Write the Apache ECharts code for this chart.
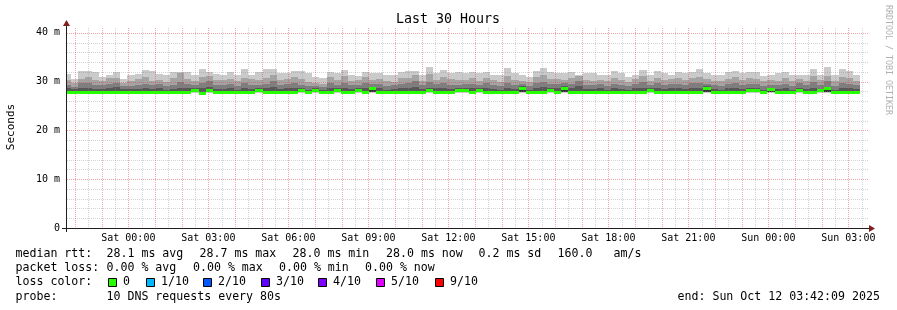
<!DOCTYPE html>
<html><head><meta charset="utf-8">
<script src="https://cdn.jsdelivr.net/npm/echarts@6/dist/echarts.min.js"></script>
<style>html,body{margin:0;padding:0;background:#fff;}#c{width:897px;height:310px;}</style>
</head><body><div id="c"></div>
<script>
// time in minutes since Fri 00:00
const startMin = 1302;   // Fri 21:42
const endMin = 3102;     // Sun 03:42
const binStart = 1294;   // first 16-minute consolidation bin
const binMinutes = 16;

const xTickTimes = [1440, 1620, 1800, 1980, 2160, 2340, 2520, 2700, 2880, 3060];
const xTickLabels = ['Sat 00:00','Sat 03:00','Sat 06:00','Sat 09:00','Sat 12:00','Sat 15:00','Sat 18:00','Sat 21:00','Sun 00:00','Sun 03:00'];
const yTickValues = [0, 10, 20, 30, 40];
const yTickLabels = ['0', '10 m', '20 m', '30 m', '40 m'];

// median RTT (ms) per bin
const medianRtt = [
27.95,27.95,27.95,27.95,27.95,27.95,27.95,27.95,27.95,27.95,27.95,27.95,27.95,27.95,
27.95,27.95,27.95,27.95,28.3,27.7,28.3,27.95,27.95,27.95,27.95,27.95,27.95,28.3,
27.95,27.95,27.95,27.95,27.95,28.3,27.8,28.3,27.95,27.95,28.3,27.95,27.95,28.3,
27.8,28.7,27.95,27.95,27.95,27.95,27.95,27.95,27.95,28.3,27.95,27.95,27.95,28.3,
28.3,27.95,28.3,27.95,27.95,27.95,27.95,27.95,28.8,27.95,27.95,27.95,28.3,27.95,
28.8,27.95,27.95,27.95,27.95,27.95,27.95,27.95,27.95,27.95,27.95,27.95,28.3,27.95,
27.95,27.95,27.95,27.95,27.95,27.95,28.8,27.95,27.95,27.95,27.95,27.95,28.2,28.2,
27.95,28.4,27.95,27.95,27.95,28.3,27.95,27.95,28.2,28.7,27.95,27.95,27.95,27.95];
// lowest ping
const pingMin = [
27.75,27.75,27.6,27.6,27.75,27.75,27.75,27.75,27.75,27.75,27.75,27.75,27.75,27.75,
27.6,27.75,27.75,27.75,27.75,27.5,27.75,27.75,27.75,27.75,27.75,27.75,27.75,27.75,
27.75,27.6,27.75,27.75,27.75,27.75,27.6,27.75,27.75,27.75,27.75,27.75,27.75,27.75,
27.6,27.75,27.75,27.75,27.75,27.75,27.75,27.75,27.6,27.75,27.75,27.75,27.75,27.75,
27.75,27.75,27.75,27.75,27.6,27.75,27.75,27.75,27.75,27.75,27.75,27.75,27.75,27.75,
27.75,27.75,27.75,27.75,27.75,27.75,27.75,27.75,27.75,27.75,27.75,27.75,27.75,27.75,
27.75,27.75,27.75,27.75,27.75,27.75,27.75,27.75,27.75,27.75,27.75,27.75,27.75,27.75,
27.75,27.75,27.75,27.75,27.75,27.75,27.75,27.75,27.75,27.75,27.75,27.75,27.75,27.75];
// lower inner pings (2nd..5th)
const pingLow = [
27.8,27.8,27.8,27.8,27.8,27.8,27.8,27.8,27.8,27.8,27.8,27.8,27.8,27.8,
27.8,27.8,27.8,27.8,27.8,27.6,27.8,27.8,27.8,27.8,27.8,27.8,27.8,27.8,
27.8,27.8,27.8,27.8,27.8,27.8,27.7,27.8,27.8,27.8,27.8,27.8,27.8,27.8,
27.7,27.8,27.8,27.8,27.8,27.8,27.8,27.8,27.8,27.8,27.8,27.8,27.8,27.8,
27.8,27.8,27.8,27.8,27.8,27.8,27.8,27.8,27.8,27.8,27.8,27.8,27.8,27.8,
27.8,27.8,27.8,27.8,27.8,27.8,27.8,27.8,27.8,27.8,27.8,27.8,27.8,27.8,
27.8,27.8,27.8,27.8,27.8,27.8,27.8,27.8,27.8,27.8,27.8,27.8,27.8,27.8,
27.8,27.8,27.8,27.8,27.8,27.8,27.8,27.8,27.8,27.8,27.8,27.8,27.8,27.8];
// 6th ping
const ping6 = [
28.15,28.15,28.15,28.15,28.15,28.15,28.15,28.15,28.15,28.15,28.15,28.15,28.15,28.15,
28.15,28.15,28.15,28.15,28.5,27.9,28.5,28.15,28.15,28.15,28.15,28.15,28.15,28.5,
28.15,28.15,28.15,28.15,28.15,28.5,28.0,28.5,28.15,28.15,28.5,28.15,28.15,28.5,
28.0,28.9,28.15,28.15,28.15,28.15,28.15,28.15,28.15,28.5,28.15,28.15,28.15,28.5,
28.5,28.15,28.5,28.15,28.15,28.15,28.15,28.15,29.0,28.15,28.15,28.15,28.5,28.15,
29.0,28.15,28.15,28.15,28.15,28.15,28.15,28.15,28.15,28.15,28.15,28.15,28.5,28.15,
28.15,28.15,28.15,28.15,28.15,28.15,29.0,28.15,28.15,28.15,28.15,28.15,28.4,28.4,
28.15,28.6,28.15,28.15,28.15,28.5,28.15,28.15,28.4,28.9,28.15,28.15,28.15,28.15];
// 7th ping
const ping7 = [
28.6,28.4,28.7,28.8,28.5,28.4,28.6,28.9,28.4,28.4,28.5,28.7,28.4,28.6,
28.3,28.5,28.8,28.6,28.6,28.7,29.0,28.4,28.5,28.7,28.3,28.6,28.5,28.6,
28.7,28.9,28.5,28.6,28.8,28.6,28.3,28.6,28.3,28.7,28.6,28.8,28.5,28.6,
28.7,28.9,28.6,28.3,28.4,28.7,28.8,29.0,28.5,28.8,28.6,28.7,28.5,28.6,
28.6,28.7,28.6,28.8,28.5,28.3,28.8,28.5,29.1,28.3,28.7,28.9,28.6,28.6,
29.1,28.7,29.1,28.5,28.4,28.6,28.3,28.7,28.5,28.3,28.7,28.8,28.6,28.7,
28.5,28.7,28.6,28.4,28.8,28.8,29.1,28.4,28.3,28.6,28.8,28.5,28.7,28.6,
28.3,28.6,28.4,28.7,28.3,28.7,28.4,28.8,28.5,29.0,28.3,28.8,28.6,28.4];
// 8th ping
const ping8 = [
29.4,29.0,29.7,29.8,29.3,29.4,29.6,29.8,29.1,29.2,29.4,29.5,29.3,29.6,
29.2,29.4,29.9,29.5,29.3,29.7,30.2,29.3,29.4,29.6,29.2,29.7,29.4,29.3,
29.5,30.1,29.4,29.6,29.8,29.4,29.1,29.2,29.0,29.7,29.3,29.8,29.4,29.3,
29.7,29.5,29.6,29.2,29.3,29.6,29.8,30.1,29.4,30.0,29.5,29.7,29.4,29.3,
29.5,29.6,29.3,29.8,29.4,29.2,29.8,29.4,29.6,29.1,29.7,30.0,29.6,29.5,
29.7,29.6,30.2,29.4,29.3,29.5,29.2,29.6,29.4,29.1,29.6,29.9,29.3,29.7,
29.4,29.6,29.5,29.3,29.7,29.8,29.6,29.3,29.2,29.5,29.8,29.4,29.6,29.5,
29.2,29.4,29.3,29.6,29.2,29.7,29.3,29.9,29.4,30.1,29.2,29.8,29.6,29.3];
// 9th ping
const ping9 = [
30.4,29.7,30.6,31.0,30.3,30.2,30.7,30.8,29.8,30.1,30.6,30.9,30.2,30.4,
30.0,30.7,31.8,30.5,30.2,31.0,31.1,30.3,30.4,30.6,30.1,30.8,30.5,30.4,
30.7,31.4,30.3,30.5,31.0,30.6,30.0,29.8,29.6,30.9,30.4,31.1,30.2,30.4,
30.9,30.3,30.6,30.1,30.0,30.7,30.8,31.3,30.2,31.6,30.4,31.0,30.5,30.3,
30.4,30.7,30.2,30.8,30.3,30.0,31.2,30.4,30.1,29.9,30.9,31.4,30.6,30.5,
30.3,30.8,31.2,30.4,30.2,30.4,30.1,30.7,30.3,30.0,30.5,31.1,30.2,30.8,
30.3,30.5,30.7,30.4,30.8,31.0,30.6,30.2,30.1,30.6,30.9,30.4,30.7,30.5,
30.1,30.4,30.2,30.7,30.1,30.6,30.2,31.1,30.4,31.2,30.1,31.0,30.7,30.1];
// highest ping
const pingMax = [
31.6,30.5,32.2,32.2,32.0,31.0,31.3,32.0,30.6,31.4,31.6,32.4,32.1,31.6,
31.3,32.0,32.0,32.0,31.4,32.6,32.0,31.6,31.3,32.0,31.3,32.5,31.3,32.0,
32.5,32.5,31.7,31.7,32.1,32.1,31.7,31.0,30.8,32.0,31.8,32.4,31.4,31.2,
32.0,31.7,31.8,31.4,31.4,32.0,32.1,32.1,31.3,33.1,31.7,32.4,31.7,32.0,
31.7,32.0,31.7,32.0,31.4,31.4,32.8,31.7,31.3,31.0,32.1,32.8,32.0,31.7,
31.7,32.0,31.4,31.7,31.7,31.3,31.3,32.1,31.7,31.0,31.4,32.3,31.3,32.1,
31.7,31.4,32.0,31.7,32.0,32.5,31.7,31.4,31.3,31.9,32.1,31.7,31.9,31.9,
31.2,31.3,31.7,32.0,31.3,31.4,31.3,32.5,31.3,33.0,31.3,32.5,32.1,31.3];

const lossLabels = ['0', '1/10', '2/10', '3/10', '4/10', '5/10', '9/10'];
const lossColors = ['#26ff00', '#00b8ff', '#0059ff', '#5e00ff', '#7e00ff', '#dd00ff', '#ff0000'];

const line1Items = ['median rtt:', '28.1 ms avg', '28.7 ms max', '28.0 ms min', '28.0 ms now', '0.2 ms sd', '160.0', 'am/s'];
const line2Items = ['packet loss:', '0.00 % avg', '0.00 % max', '0.00 % min', '0.00 % now'];
const line4Items = ['probe:', '10 DNS requests every 80s', 'end: Sun Oct 12 03:42:09 2025'];

// ---- layout / styles ----
const MONO = 'DejaVu Sans Mono';
const line1X = [15.5, 106.5, 199.5, 292.5, 386, 478.5, 557.5, 613.5];
const line2X = [15.5, 106.5, 193, 279, 365];
const line4X = [15.5, 106.5, 677.5];
const lossBoxX = [108.5, 146.5, 203.5, 261.5, 318.5, 376.5, 435.5];
const smokeColors = ['#cacaca', '#a4a4a4', '#7e7e7e', '#585858', '#323232'];

const smokeData = medianRtt.map((m, i) => [
  binStart + i * binMinutes, binStart + (i + 1) * binMinutes,
  pingMin[i], pingLow[i], ping6[i], ping7[i], ping8[i], ping9[i], pingMax[i]
]);
const medianData = medianRtt.map((m, i) => [binStart + i * binMinutes, binStart + (i + 1) * binMinutes, m]);

const vGrid = []; for (let t = 1320; t < endMin; t += 30) vGrid.push(t);
const hGrid = []; for (let v = 2; v <= 40; v += 2) hGrid.push(v);

function smokeItem(params, api) {
  const t0 = Math.max(api.value(0), startMin), t1 = api.value(1);
  const bands = [[2, 8], [3, 7], [3, 6], [3, 5], [3, 4]];
  const children = bands.map((b, k) => {
    const a = api.coord([t0, api.value(b[1])]);
    const c = api.coord([t1, api.value(b[0])]);
    const x0 = Math.round(a[0]), x1 = Math.round(c[0]);
    const y0 = Math.round(a[1]), y1 = Math.round(c[1]);
    return { type: 'rect', shape: { x: x0, y: y0, width: x1 - x0, height: y1 - y0 }, style: { fill: smokeColors[k] } };
  });
  return { type: 'group', children };
}
function medianItem(params, api) {
  const t0 = Math.max(api.value(0), startMin), t1 = api.value(1);
  const a = api.coord([t0, api.value(2)]);
  const c = api.coord([t1, api.value(2)]);
  const x0 = Math.round(a[0]), x1 = Math.round(c[0]), y = Math.round(a[1]);
  return { type: 'rect', shape: { x: x0, y: y - 1, width: x1 - x0, height: 3 }, style: { fill: lossColors[0] } };
}
function gridItem(params, api) {
  const children = [];
  const minorC = 'rgba(140,140,140,0.38)', majorC = 'rgba(225,60,60,0.45)';
  vGrid.forEach(t => {
    const p = api.coord([t, 0]), q = api.coord([t, 41]);
    const x = Math.round(p[0]) + 0.5;
    children.push({ type: 'line', shape: { x1: x, y1: Math.round(q[1]), x2: x, y2: Math.round(p[1]) },
      style: { stroke: t % 60 === 0 ? majorC : minorC, lineWidth: 1, lineDash: [1, 1] } });
  });
  hGrid.forEach(v => {
    const p = api.coord([startMin, v]), q = api.coord([endMin, v]);
    const y = Math.round(p[1]) + 0.5;
    children.push({ type: 'line', shape: { x1: Math.round(p[0]), y1: y, x2: Math.round(q[0]) + 1, y2: y },
      style: { stroke: v % 10 === 0 ? majorC : minorC, lineWidth: 1, lineDash: [1, 1] } });
  });
  return { type: 'group', children };
}

function txt(text, x, y, size, opts) {
  return Object.assign({ type: 'text', x: x, y: y, silent: true,
    style: Object.assign({ text: text, fontFamily: MONO, fontSize: size, fill: '#000',
      align: 'left', verticalAlign: 'middle', textAlign: 'left', textVerticalAlign: 'middle' }, (opts && opts.style) || {}) },
    (opts && opts.el) || {});
}

const graphics = [];
graphics.push(txt('Last 30 Hours', 448, 20, 13.3, { style: { align: 'center', textAlign: 'center' } }));
graphics.push(txt('Seconds', 11, 127, 11, { style: { align: 'center', textAlign: 'center' }, el: { rotation: Math.PI / 2 } }));
graphics.push(txt('RRDTOOL / TOBI OETIKER', 888, 60, 8.3, { style: { align: 'center', textAlign: 'center', fill: '#b0b0b0' }, el: { rotation: -Math.PI / 2 } }));
// axes
graphics.push({ type: 'line', silent: true, z: 10, shape: { x1: 66.5, y1: 24, x2: 66.5, y2: 232 }, style: { stroke: '#1f1f1f', lineWidth: 1 } });
graphics.push({ type: 'line', silent: true, z: 10, shape: { x1: 62, y1: 228.5, x2: 870, y2: 228.5 }, style: { stroke: '#1f1f1f', lineWidth: 1 } });
graphics.push({ type: 'polygon', silent: true, z: 11, shape: { points: [[63, 26], [70, 26], [66.5, 20]] }, style: { fill: '#801f1f' } });
graphics.push({ type: 'polygon', silent: true, z: 11, shape: { points: [[869, 225], [869, 232], [875, 228.5]] }, style: { fill: '#801f1f' } });
// legend
line1Items.forEach((s, i) => graphics.push(txt(s, line1X[i], 254, 11.6)));
line2Items.forEach((s, i) => graphics.push(txt(s, line2X[i], 268, 11.6)));
graphics.push(txt('loss color:', 15.5, 282, 11.6));
lossLabels.forEach((s, i) => {
  graphics.push({ type: 'rect', silent: true, shape: { x: lossBoxX[i], y: 278.5, width: 8, height: 8 },
    style: { fill: lossColors[i], stroke: '#000', lineWidth: 1 } });
  graphics.push(txt(s, lossBoxX[i] + 14.5, 282, 11.6));
});
line4Items.forEach((s, i) => graphics.push(txt(s, line4X[i], 296.5, 11.6)));

const chart = echarts.init(document.getElementById('c'), null, { renderer: 'canvas' });
chart.setOption({
  animation: false,
  backgroundColor: '#ffffff',
  grid: { left: 67, right: 30, top: 28, bottom: 82, containLabel: false },
  xAxis: {
    type: 'value', min: startMin, max: endMin,
    axisLine: { show: false }, axisTick: { show: false }, splitLine: { show: false },
    axisLabel: {
      customValues: xTickTimes, margin: 5, fontFamily: MONO, fontSize: 10, color: '#000',
      formatter: v => { const i = xTickTimes.indexOf(v); return i >= 0 ? xTickLabels[i] : ''; }
    }
  },
  yAxis: {
    type: 'value', min: 0, max: 41,
    axisLine: { show: false }, axisTick: { show: false }, splitLine: { show: false },
    axisLabel: {
      customValues: yTickValues, margin: 7, fontFamily: MONO, fontSize: 10, color: '#000',
      formatter: v => { const i = yTickValues.indexOf(v); return i >= 0 ? yTickLabels[i] : ''; }
    }
  },
  series: [
    { type: 'custom', name: 'smoke', z: 2, silent: true, renderItem: smokeItem, data: smokeData,
      encode: { x: [0, 1], y: [2, 3, 4, 5, 6, 7, 8] } },
    { type: 'custom', name: 'grid', z: 3, silent: true, renderItem: gridItem, data: [[startMin, 0]],
      encode: { x: 0, y: 1 } },
    { type: 'custom', name: 'median', z: 4, silent: true, renderItem: medianItem, data: medianData,
      encode: { x: [0, 1], y: 2 } }
  ],
  graphic: graphics
});
</script>
</body></html>
